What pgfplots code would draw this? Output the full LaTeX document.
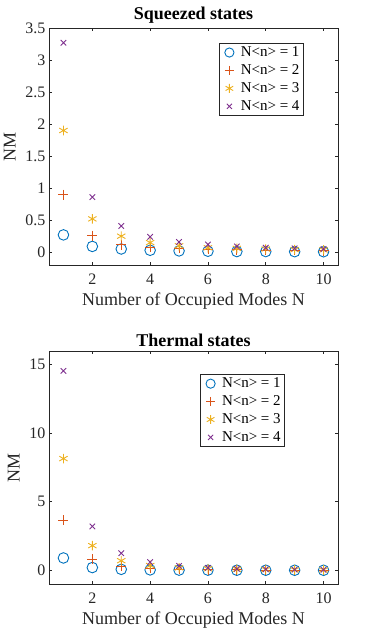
\documentclass[border=0pt]{standalone}
\usepackage{pgfplots}
\pgfplotsset{compat=1.18}
\usepackage{fontspec}
\setmainfont{Liberation Serif}
\definecolor{c1}{rgb}{0,0.447,0.741}
\definecolor{c2}{rgb}{0.85,0.325,0.098}
\definecolor{c3}{rgb}{0.929,0.694,0.125}
\definecolor{c4}{rgb}{0.494,0.184,0.556}
\definecolor{axc}{rgb}{0.15,0.15,0.15}
\pgfplotsset{
  mstyle/.style={
    scale only axis, width=289pt,
    xmin=0.5, xmax=10.5, xtick={2,4,6,8,10},
    tick align=inside, major tick length=3pt,
    axis line style={axc, line width=0.8pt},
    every tick/.style={axc, line width=0.6pt},
    tick label style={font=\fontsize{16}{18}\selectfont, text=axc},
    xticklabel style={yshift=-5pt},
    label style={font=\fontsize{18}{20}\selectfont, text=axc},
    title style={font=\fontsize{18}{20}\selectfont\bfseries, yshift=-5pt},
    /pgf/number format/assume math mode=true,
    xlabel={Number of Occupied Modes N},
    ylabel={NM},
    xlabel style={yshift=-2pt},
    ylabel style={yshift=3pt},
    legend cell align=left,
    legend style={draw=axc, line width=0.8pt, font=\fontsize{15}{16}\selectfont, inner xsep=2pt, inner ysep=1.5pt, row sep=2.5pt},
  },
  lim/.style={legend image code/.code={\path (0pt,0pt) (17pt,0pt); \draw[##1, mark size=#1] plot coordinates {(8pt,0pt)};}},
  m1/.style={only marks, lim=4.6pt, mark=o, mark size=5.3pt, c1, mark options={line width=0.9pt}},
  m2/.style={only marks, lim=4.6pt, mark=+, mark size=5pt, c2, mark options={line width=0.9pt}},
  m3/.style={only marks, lim=4.4pt, mark=asterisk, mark size=4.8pt, c3, mark options={line width=0.9pt}},
  m4/.style={only marks, lim=3.6pt, mark=x, mark size=3.9pt, c4, mark options={line width=0.9pt}},
}
\begin{document}
\begin{tikzpicture}
\useasboundingbox (-49pt,-364pt) rectangle (325pt,265pt);
\begin{axis}[mstyle, at={(0pt,0pt)}, anchor=south west, height=237pt,
  ymin=-0.2, ymax=3.5, ytick={0,0.5,1,1.5,2,2.5,3,3.5},
  yticklabels={0,0.5,1,1.5,2,2.5,3,3.5},
  title={Squeezed states},
  legend style={at={(0.882,0.937)}, anchor=north east}]
\addplot[m1] coordinates {(1,0.27)(2,0.09)(3,0.05)(4,0.03)(5,0.02)(6,0.015)(7,0.01)(8,0.01)(9,0.008)(10,0.007)};
\addplot[m2] coordinates {(1,0.90)(2,0.26)(3,0.12)(4,0.08)(5,0.06)(6,0.05)(7,0.04)(8,0.03)(9,0.03)(10,0.02)};
\addplot[m3] coordinates {(1,1.90)(2,0.52)(3,0.25)(4,0.15)(5,0.10)(6,0.07)(7,0.06)(8,0.05)(9,0.04)(10,0.035)};
\addplot[m4] coordinates {(1,3.27)(2,0.86)(3,0.41)(4,0.24)(5,0.16)(6,0.12)(7,0.09)(8,0.07)(9,0.06)(10,0.05)};
\legend{N<n> = 1, N<n> = 2, N<n> = 3, N<n> = 4}
\end{axis}
\begin{axis}[mstyle, at={(0pt,-319pt)}, anchor=south west, height=233pt,
  ymin=-1, ymax=16, ytick={0,5,10,15},
  title={Thermal states},
  legend style={at={(0.817,0.901)}, anchor=north east}]
\addplot[m1] coordinates {(1,0.90)(2,0.20)(3,0.07)(4,0.03)(5,0.015)(6,0.01)(7,0.005)(8,0.004)(9,0.003)(10,0.002)};
\addplot[m2] coordinates {(1,3.65)(2,0.80)(3,0.30)(4,0.15)(5,0.08)(6,0.05)(7,0.03)(8,0.02)(9,0.015)(10,0.01)};
\addplot[m3] coordinates {(1,8.15)(2,1.80)(3,0.70)(4,0.35)(5,0.18)(6,0.11)(7,0.07)(8,0.05)(9,0.035)(10,0.025)};
\addplot[m4] coordinates {(1,14.55)(2,3.20)(3,1.25)(4,0.60)(5,0.32)(6,0.18)(7,0.11)(8,0.07)(9,0.05)(10,0.04)};
\legend{N<n> = 1, N<n> = 2, N<n> = 3, N<n> = 4}
\end{axis}
\end{tikzpicture}
\end{document}
